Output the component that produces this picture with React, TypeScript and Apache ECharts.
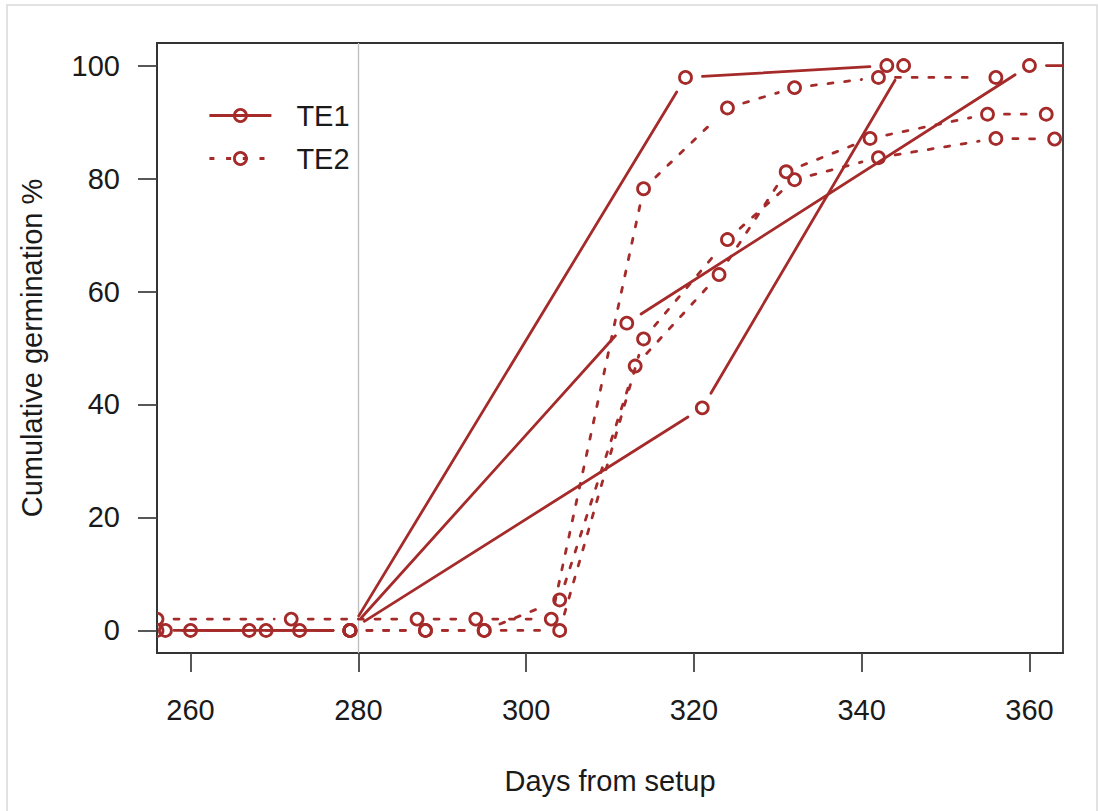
import React, { useEffect, useRef } from "react";
import * as echarts from "echarts";

// ---- data ----
const X_TICKS = [260, 280, 300, 320, 340, 360];
const Y_TICKS = [0, 20, 40, 60, 80, 100];
const REF_DAY = 280;

// TE1 (solid) replicates
const TE1_REP1_DAYS = [257, 267, 279, 319, 343];
const TE1_REP1_PCT = [0, 0, 0, 97.9, 100];
const TE1_REP2_DAYS = [260, 269, 279, 312, 360, 368];
const TE1_REP2_PCT = [0, 0, 0, 54.4, 100, 100];
const TE1_REP3_DAYS = [256, 273, 279, 321, 345];
const TE1_REP3_PCT = [0, 0, 0, 39.4, 100];

// TE2 (dashed) replicates
const TE2_REP1_DAYS = [256, 272, 287, 294, 303, 314, 324, 332, 342, 356];
const TE2_REP1_PCT = [2, 2, 2, 2, 2, 78.2, 92.5, 96.1, 97.9, 97.9];
const TE2_REP2_DAYS = [279, 288, 295, 304, 313, 323, 331, 341, 355, 362];
const TE2_REP2_PCT = [0, 0, 0, 5.4, 46.8, 63.0, 81.2, 87.1, 91.4, 91.4];
const TE2_REP3_DAYS = [279, 288, 295, 304, 314, 324, 332, 342, 356, 363];
const TE2_REP3_PCT = [0, 0, 0, 0, 51.6, 69.2, 79.8, 83.7, 87.1, 87.0];

// ---- styles ----
const COLOR = "#A52A2A";
const TEXT = "#1a1a1a";
const FONT = "'Liberation Sans', Arial, Helvetica, sans-serif";
const FS = 29;
const LW = 2.8;
const R = 6;
const GAP = 17;
const DASH = [5, 11.7];
const AXIS_COLOR = "#333333";

function pairs(days: number[], pct: number[]) {
  return days.map((d, i) => [d, pct[i]]);
}

function makeRenderItem(dash: number[] | null) {
  return (params: any, api: any) => {
    const i = params.dataIndexInside;
    const p = api.coord([api.value(0), api.value(1)]);
    const children: any[] = [];
    if (i > 0) {
      const q = api.coord([api.value(0, i - 1), api.value(1, i - 1)]);
      const dx = p[0] - q[0];
      const dy = p[1] - q[1];
      const len = Math.hypot(dx, dy);
      if (len > 2 * GAP) {
        const ux = dx / len;
        const uy = dy / len;
        children.push({
          type: "line",
          shape: {
            x1: q[0] + ux * GAP,
            y1: q[1] + uy * GAP,
            x2: p[0] - ux * GAP,
            y2: p[1] - uy * GAP,
          },
          style: {
            stroke: COLOR,
            lineWidth: LW,
            lineDash: dash || undefined,
            lineCap: "round",
            fill: null,
          },
        });
      }
    }
    children.push({
      type: "circle",
      shape: { cx: p[0], cy: p[1], r: R },
      style: { fill: "none", stroke: COLOR, lineWidth: LW },
    });
    return { type: "group", children };
  };
}

function repSeries(name: string, days: number[], pct: number[], dash: number[] | null) {
  return {
    type: "custom",
    name,
    silent: true,
    clip: true,
    z: 3,
    encode: { x: 0, y: 1 },
    data: pairs(days, pct),
    renderItem: makeRenderItem(dash),
  };
}

export default function App() {
  const ref = useRef<HTMLDivElement>(null);

  useEffect(() => {
    if (!ref.current) return;
    const chart = echarts.init(ref.current, null, { renderer: "svg" });

    const legendItemStyle = {
      color: "rgba(0,0,0,0)",
      borderColor: COLOR,
      borderWidth: LW,
    };

    const axisCommon = (ticks: number[], margin: number) => ({
      axisLine: {
        show: true,
        onZero: false,
        lineStyle: { color: AXIS_COLOR, width: 1.8 },
      },
      axisTick: {
        show: true,
        inside: false,
        length: 19,
        customValues: ticks,
        lineStyle: { color: "#444444", width: 1.8 },
      },
      axisLabel: {
        customValues: ticks,
        fontSize: FS,
        color: TEXT,
        fontFamily: FONT,
        margin,
        inside: false,
      },
      splitLine: { show: false },
    });

    const option: any = {
      animation: false,
      backgroundColor: "#ffffff",
      textStyle: { fontFamily: FONT },
      graphic: [
        {
          type: "rect",
          silent: true,
          z: -10,
          shape: { x: 7, y: 5, width: 1090, height: 830 },
          style: { fill: "none", stroke: "#d9d9d9", lineWidth: 1.5 },
        },
      ],
      grid: {
        left: 157,
        right: 35,
        top: 43,
        bottom: 158,
        show: true,
        borderColor: AXIS_COLOR,
        borderWidth: 1.8,
        backgroundColor: "rgba(0,0,0,0)",
      },
      legend: {
        orient: "vertical",
        left: 203,
        top: 96,
        itemWidth: 62,
        itemHeight: 15,
        itemGap: 14,
        selectedMode: false,
        data: [
          {
            name: "TE1",
            itemStyle: legendItemStyle,
            lineStyle: { color: COLOR, width: LW, type: "solid" },
          },
          {
            name: "TE2",
            itemStyle: legendItemStyle,
            lineStyle: { color: COLOR, width: LW, type: DASH },
          },
        ],
        textStyle: {
          fontSize: FS,
          color: TEXT,
          fontFamily: FONT,
          padding: [0, 0, 0, 20],
        },
      },
      xAxis: {
        type: "value",
        min: 256,
        max: 364,
        position: "bottom",
        name: "Days from setup",
        nameLocation: "middle",
        nameGap: 113,
        nameTextStyle: { fontSize: FS, color: TEXT, fontFamily: FONT },
        ...axisCommon(X_TICKS, 42),
      },
      yAxis: {
        type: "value",
        min: -4,
        max: 104,
        position: "left",
        name: "Cumulative germination %",
        nameLocation: "middle",
        nameGap: 111,
        nameTextStyle: { fontSize: FS, color: TEXT, fontFamily: FONT },
        ...axisCommon(Y_TICKS, 37),
      },
      series: [
        {
          type: "line",
          name: "TE1",
          data: [],
          symbol: "circle",
          symbolSize: 12,
          itemStyle: { color: "rgba(0,0,0,0)", borderColor: COLOR, borderWidth: LW },
          lineStyle: { color: COLOR, width: LW, type: "solid" },
          markLine: {
            silent: true,
            z: 1,
            symbol: ["none", "none"],
            label: { show: false },
            lineStyle: { color: "#bebebe", width: 1.3, type: "solid" },
            data: [{ xAxis: REF_DAY }],
          },
        },
        {
          type: "line",
          name: "TE2",
          data: [],
          symbol: "circle",
          symbolSize: 12,
          itemStyle: { color: "rgba(0,0,0,0)", borderColor: COLOR, borderWidth: LW },
          lineStyle: { color: COLOR, width: LW, type: DASH },
        },
        repSeries("TE1 rep 1", TE1_REP1_DAYS, TE1_REP1_PCT, null),
        repSeries("TE1 rep 2", TE1_REP2_DAYS, TE1_REP2_PCT, null),
        repSeries("TE1 rep 3", TE1_REP3_DAYS, TE1_REP3_PCT, null),
        repSeries("TE2 rep 1", TE2_REP1_DAYS, TE2_REP1_PCT, DASH),
        repSeries("TE2 rep 2", TE2_REP2_DAYS, TE2_REP2_PCT, DASH),
        repSeries("TE2 rep 3", TE2_REP3_DAYS, TE2_REP3_PCT, DASH),
      ],
    };

    chart.setOption(option);
    return () => {
      chart.dispose();
    };
  }, []);

  return (
    <div
      ref={ref}
      style={{ position: "fixed", left: 0, top: 0, width: 1098, height: 811, background: "#fff" }}
    />
  );
}
